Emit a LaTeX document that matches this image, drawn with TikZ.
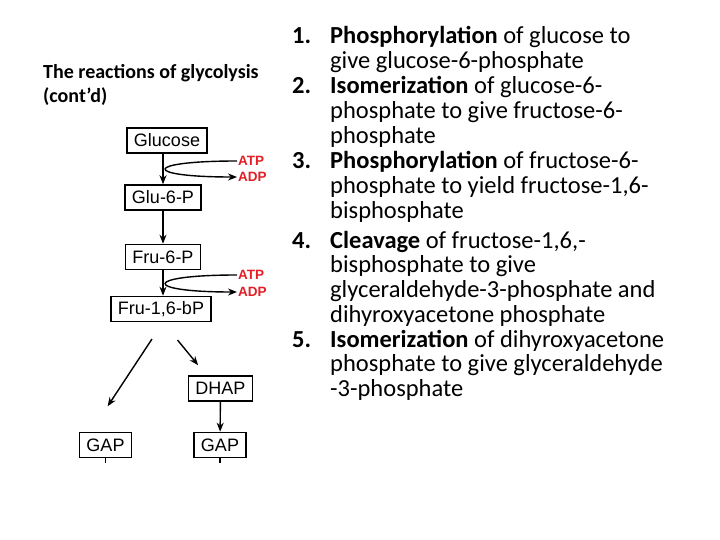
\documentclass[tikz,border=0pt]{standalone}
\usepackage{fontspec}
\setmainfont{Carlito}
\newfontfamily\arialfont{Liberation Sans}
\usetikzlibrary{arrows.meta}
\definecolor{atpred}{RGB}{226,30,38}
\tikzset{
  metab/.style={draw,line width=1.6pt,font=\arialfont\fontsize{18}{20}\selectfont,inner xsep=7pt,inner ysep=0pt,minimum height=25pt},
  cofac/.style={text=atpred,font=\arialfont\bfseries\fontsize{13.5}{15}\selectfont,inner sep=1pt,anchor=west},
  rxn/.style={-{Stealth[length=9pt,width=7pt]},line width=1.4pt},
  steptext/.style={anchor=base west,align=left,inner sep=0pt,font=\fontsize{24.5}{24.8}\selectfont},
  stepnum/.style={anchor=base west,inner sep=0pt,font=\bfseries\fontsize{24.5}{24.8}\selectfont},
}
\begin{document}
\begin{tikzpicture}[x=1pt,y=-1pt]
    \useasboundingbox (0,0) rectangle (720,540);
    \node[anchor=base west,align=left,inner sep=0pt,font=\bfseries\fontsize{20}{24}\selectfont] (title) at (43,103) {The reactions of glycolysis\\(cont'd)};
    % pathway
    \node[metab] (glc) at (167,140.5) {Glucose};
    \node[metab] (g6p) at (163,197.5) {Glu-6-P};
    \node[metab] (f6p) at (163,257) {Fru-6-P};
    \node[metab] (fbp) at (161,309) {Fru-1,6-bP};
    \node[metab] (dhap) at (220.5,388.5) {DHAP};
    \node[metab] (gapl) at (105.5,445) {GAP};
    \node[metab] (gapr) at (220,445) {GAP};
    \node[cofac] (atp1) at (237,161) {ATP};
    \node[cofac] (adp1) at (237,177) {ADP};
    \node[cofac] (atp2) at (237,275) {ATP};
    \node[cofac] (adp2) at (237,292) {ADP};
    \coordinate (tolft) at (90,433);
    \coordinate (torgt) at (207,376);
    \draw[rxn] (glc.south -| g6p) -- (g6p.north);
    \draw[rxn] (g6p) -- (f6p);
    \draw[rxn] (f6p.south) -- (fbp.north -| f6p);
    \draw[rxn] (atp1.west) .. controls (142,161) and (142,177) .. (adp1.west);
    \draw[rxn] (atp2.west) .. controls (142,275) and (142,292) .. (adp2.west);
    \draw[rxn,shorten <=20pt,shorten >=32pt] (fbp.south -| f6p) -- (tolft);
    \draw[rxn,shorten <=23pt,shorten >=14pt] (fbp.south -| f6p) -- (torgt);
    \draw[rxn] (dhap) -- (gapr);
    \draw[line width=1.4pt] (gapl.south) -- ++(0,5);
    \draw[line width=1.4pt] (gapr.south) -- ++(0,5);
    % steps (base = last line)
    \node[stepnum] (n1) at (292,44) {1.};
    \node[steptext] (s1) at (330,68.8) {\textbf{Phosphorylation} of glucose to\\give glucose-6-phosphate};
    \node[stepnum] (n2) at (292,94) {2.};
    \node[steptext] (s2) at (330,143.6) {\textbf{Isomerization} of glucose-6-\\phosphate to give fructose-6-\\phosphate};
    \node[stepnum] (n3) at (292,169) {3.};
    \node[steptext] (s3) at (330,218.6) {\textbf{Phosphorylation} of fructose-6-\\phosphate to yield fructose-1,6-\\bisphosphate};
    \node[stepnum] (n4) at (292,248) {4.};
    \node[steptext] (s4) at (330,322.4) {\textbf{Cleavage} of fructose-1,6,-\\bisphosphate to give\\glyceraldehyde-3-phosphate and\\dihyroxyacetone phosphate};
    \node[stepnum] (n5) at (292,347) {5.};
    \node[steptext] (s5) at (330,396.6) {\textbf{Isomerization} of dihyroxyacetone\\phosphate to give glyceraldehyde\\-3-phosphate};
\end{tikzpicture}
\end{document}
